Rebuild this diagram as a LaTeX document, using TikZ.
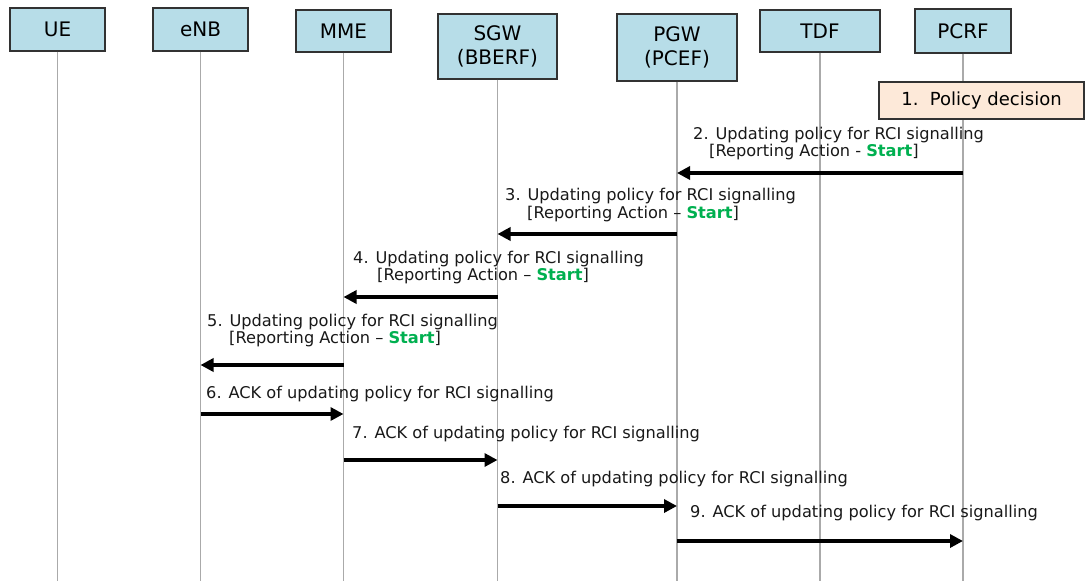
\documentclass[tikz,border=0pt]{standalone}
\usepackage{fontspec}
\setmainfont{DejaVu Sans}
\usetikzlibrary{arrows.meta}
\definecolor{hdrfill}{RGB}{183,221,232}
\definecolor{decfill}{RGB}{253,233,217}
\definecolor{startgreen}{RGB}{0,176,80}
\definecolor{lifegray}{RGB}{170,170,170}
\definecolor{boxline}{RGB}{50,50,50}
\newcommand{\grnstart}{\textcolor{startgreen}{\bfseries Start}}
\begin{document}
\begin{tikzpicture}[x=1pt,y=-1pt,
  hdr/.style={draw=boxline, line width=1.3pt, fill=hdrfill, align=center,
    inner sep=0pt, font=\fontsize{20}{24}\selectfont},
  dec/.style={draw=boxline, line width=1.3pt, fill=decfill, inner sep=0pt,
    font=\fontsize{18}{22}\selectfont},
  life/.style={draw=lifegray, line width=1.1pt},
  msg/.style={line width=4pt, -{Triangle[length=13pt,width=13pt]}},
  lab/.style={anchor=base west, inner sep=0pt, text=black!90,
    font=\fontsize{16.2}{17}\selectfont}]
\useasboundingbox (0,0) rectangle (1086,581);
\fill[white] (0,0) rectangle (1086,581);

% header boxes
\node[hdr, minimum width=95pt, minimum height=43pt] (ue) at (57.5,29.5) {UE};
\node[hdr, minimum width=95pt, minimum height=43pt] (enb) at (200.5,29.5) {eNB};
\node[hdr, minimum width=95pt, minimum height=42pt] (mme) at (343.5,31) {MME};
\node[hdr, minimum width=119pt, minimum height=65pt] (sgw) at (497.5,46.5) {SGW\\(BBERF)};
\node[hdr, minimum width=120pt, minimum height=67pt] (pgw) at (677,47.5) {PGW\\(PCEF)};
\node[hdr, minimum width=120pt, minimum height=42pt] (tdf) at (820,31) {TDF};
\node[hdr, minimum width=96pt, minimum height=44pt] (pcrf) at (963,31) {PCRF};

% lifelines
\foreach \n in {ue,enb,mme,sgw,pgw,tdf,pcrf}
  \draw[life] (\n.south) -- (\n.south |- 0,581);

% policy decision
\node[dec, minimum width=205pt, minimum height=37pt] (decision) at (981.5,100.5) {1.\ \ Policy decision};

% messages
\node[lab] (m2a) at (693,139) {2. Updating policy for RCI signalling};
\node[lab] (m2b) at (709,156) {[Reporting Action - \grnstart]};
\draw[msg] (pcrf |- 0,173) -- (pgw |- 0,173);

\node[lab] (m3a) at (505,200) {3. Updating policy for RCI signalling};
\node[lab] (m3b) at (527,218) {[Reporting Action – \grnstart]};
\draw[msg] (pgw |- 0,234) -- (sgw |- 0,234);

\node[lab] (m4a) at (353,263) {4. Updating policy for RCI signalling};
\node[lab] (m4b) at (377,280) {[Reporting Action – \grnstart]};
\draw[msg] (sgw |- 0,297) -- (mme |- 0,297);

\node[lab] (m5a) at (207,326) {5. Updating policy for RCI signalling};
\node[lab] (m5b) at (229,343) {[Reporting Action – \grnstart]};
\draw[msg] (mme |- 0,365) -- (enb |- 0,365);

\node[lab] (m6) at (206,398) {6. ACK of updating policy for RCI signalling};
\draw[msg] (enb |- 0,414) -- (mme |- 0,414);

\node[lab] (m7) at (352,438) {7. ACK of updating policy for RCI signalling};
\draw[msg] (mme |- 0,460) -- (sgw |- 0,460);

\node[lab] (m8) at (500,483) {8. ACK of updating policy for RCI signalling};
\draw[msg] (sgw |- 0,506) -- (pgw |- 0,506);

\node[lab] (m9) at (690,517) {9. ACK of updating policy for RCI signalling};
\draw[msg] (pgw |- 0,541) -- (pcrf |- 0,541);
\end{tikzpicture}
\end{document}
